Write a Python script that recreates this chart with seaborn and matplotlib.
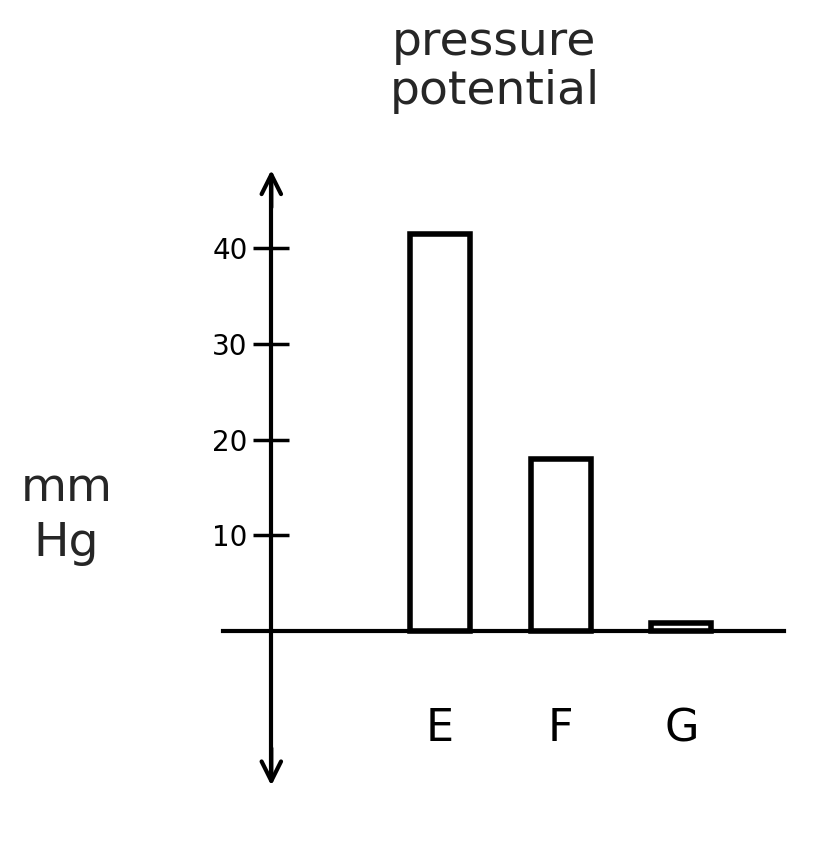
import matplotlib
matplotlib.use("Agg")
import matplotlib.pyplot as plt
import seaborn as sns
import pandas as pd

# values
categories = ["E", "F", "G"]
pressure = [41.5, 18, 0.8]
y_ticks = [10, 20, 30, 40]

sns.set_theme(style="white")
plt.rcParams['font.family'] = ['DejaVu Sans']

df = pd.DataFrame({"site": categories, "mmHg": pressure})

fig = plt.figure(figsize=(8.26, 8.6), dpi=100)
ax = fig.add_axes([0, 0, 1, 1])
ax.patch.set_alpha(0)
sns.barplot(data=df, x="site", y="mmHg", ax=ax, color="white",
            edgecolor="black", linewidth=4, width=0.5)

ax.set_xlim(-3.65, 3.2)
ax.set_ylim(-24, 66)

# axes drawn as sketch: y axis at x=-1.4, x axis at y=0
for s in ["top", "right"]:
    ax.spines[s].set_visible(False)
ax.spines["left"].set_position(("data", -1.4))
ax.spines["bottom"].set_position(("data", 0))
ax.spines["left"].set_bounds(-15, 47)
ax.spines["bottom"].set_bounds(-1.8, 2.85)
for s in ["left", "bottom"]:
    ax.spines[s].set_color("black")
    ax.spines[s].set_linewidth(3)
ax.annotate("", xy=(-1.4, 48.5), xytext=(-1.4, 44), xycoords="data",
            arrowprops=dict(arrowstyle="->", lw=3, color="black", mutation_scale=35))
ax.annotate("", xy=(-1.4, -16.5), xytext=(-1.4, -12), xycoords="data",
            arrowprops=dict(arrowstyle="->", lw=3, color="black", mutation_scale=35))

ax.set_yticks(y_ticks)
ax.set_yticklabels([str(t) for t in y_ticks], fontsize=20)
ax.tick_params(axis="y", left=True, direction="inout", length=26, width=2.5,
               color="black", pad=4, labelcolor="black")
ax.tick_params(axis="x", labelsize=32, length=0, pad=55, labelcolor="black")

ax.set_xlabel("")
ax.set_ylabel("")
ax.text(-3.1, 12, "mm\nHg", fontsize=34, ha="center", va="center",
        linespacing=1.3)
ax.text(0.45, 59, "pressure\npotential", fontsize=34, ha="center",
        va="center", linespacing=1.1)

fig.savefig("out.png", dpi=100)
